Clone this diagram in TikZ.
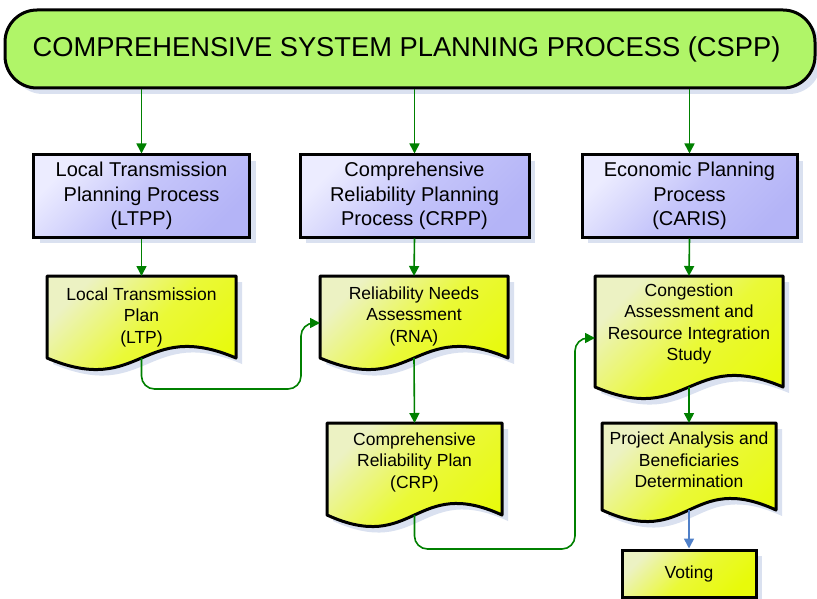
\documentclass[tikz,border=0pt]{standalone}
\usepackage{fontspec}
\setmainfont{Liberation Sans}
\usetikzlibrary{arrows.meta,calc,shadows}
\definecolor{arrowgreen}{RGB}{0,128,0}
\definecolor{arrowblue}{RGB}{80,128,200}
\definecolor{shadowc}{RGB}{218,225,240}
\definecolor{limefill}{RGB}{176,245,104}
\definecolor{purpleA}{RGB}{236,236,255}
\definecolor{purpleB}{RGB}{180,180,247}
\definecolor{purpleM}{RGB}{196,196,250}
\definecolor{yellowA}{RGB}{236,242,195}
\definecolor{yellowM}{RGB}{234,249,55}
\definecolor{yellowB}{RGB}{232,250,10}
\newcommand\docshape[5]{%
  \fill[shadowc,shift={(6,6)}] (#2,#3) -- (#4,#3) -- (#4,#5) .. controls ({(#2+#4)/2},{#5-40}) and ({(#2+#4)/2},{#5+40}) .. (#2,#5) -- cycle;
  \draw[docfill] (#2,#3) -- (#4,#3) -- (#4,#5) .. controls ({(#2+#4)/2},{#5-40}) and ({(#2+#4)/2},{#5+40}) .. (#2,#5) -- cycle;
  \coordinate (#1-t) at ({(#2+#4)/2},#3);
  \coordinate (#1-b) at ({(#2+#4)/2},#5);
}
\begin{document}
\begin{tikzpicture}[x=1pt,y=-1pt,
  flow/.style={draw=arrowgreen, line width=1.6pt, -{Triangle[length=10pt,width=10pt]}},
  bflow/.style={draw=arrowblue, line width=1.6pt, -{Triangle[length=10pt,width=10pt]}},
  shad/.style={drop shadow={shadow xshift=6pt, shadow yshift=-6pt, fill=shadowc, opacity=1}},
  procbox/.style={draw=black, line width=3pt, top color=purpleA, bottom color=purpleB, middle color=purpleM, shading angle=45,
    minimum width=216pt, minimum height=82pt, inner sep=0pt, align=center,
    font=\fontsize{20}{24.5}\selectfont, shad},
  docfill/.style={draw=black, line width=3pt, top color=yellowA, bottom color=yellowB, middle color=yellowM, shading angle=45, line join=round},
  doctext/.style={align=center, inner sep=0pt, font=\fontsize{17.5}{21.5}\selectfont},
  votebox/.style={draw=black, line width=3pt, top color=yellowA, bottom color=yellowB, middle color=yellowM, shading angle=45,
    minimum width=134pt, minimum height=47pt, inner sep=0pt, font=\fontsize{17.5}{21.5}\selectfont, shad},
  topbox/.style={draw=black, line width=3pt, fill=limefill, rounded corners=32pt,
    minimum width=810pt, minimum height=78pt, inner sep=0pt, font=\fontsize{27.3}{30}\selectfont, shad}
]
\useasboundingbox (0,0) rectangle (817,599);
\fill[white] (0,0) rectangle (817,599);

\node[topbox] (cspp) at (410,49) {\hspace*{-7pt}COMPREHENSIVE SYSTEM PLANNING PROCESS (CSPP)};

\node[procbox] (ltpp) at (141.5,196) {Local Transmission\\Planning Process\\(LTPP)};
\node[procbox, minimum width=229pt] (crpp) at (414.5,196) {Comprehensive\\Reliability Planning\\Process (CRPP)};
\node[procbox, minimum width=215pt] (caris) at (689.5,196) {Economic Planning\\Process\\(CARIS)};

\docshape{ltp}{47}{276}{236}{358}
\docshape{rna}{320}{276}{508}{358}
\docshape{crp}{327}{423}{502}{515}
\docshape{cris}{595}{276}{783}{387}
\docshape{pabd}{602}{423}{776}{510}

\coordinate (rna-w) at (320,323);
\coordinate (cris-w) at (595,338);

\node[doctext] (ltpT) at (141.5,317) {Local Transmission\\Plan\\(LTP)};
\node[doctext] (rnaT) at (414,316) {Reliability Needs\\Assessment\\(RNA)};
\node[doctext] (crpT) at (414.5,462) {Comprehensive\\Reliability Plan\\(CRP)};
\node[doctext] (crisT) at (689,324) {Congestion\\Assessment and\\Resource Integration\\Study};
\node[doctext] (pabdT) at (689,460) {Project Analysis and\\Beneficiaries\\Determination};

\node[votebox] (voting) at (689,573.5) {Voting};

\draw[flow] (cspp.south -| ltpp.north) -- (ltpp.north);
\draw[flow] (cspp.south -| crpp.north) -- (crpp.north);
\draw[flow] (cspp.south -| caris.north) -- (caris.north);

\draw[flow] (ltpp.south) -- (ltp-t);
\draw[flow] (crpp.south) -- (rna-t);
\draw[flow] (caris.south) -- (cris-t);
\draw[flow] (rna-b) -- (crp-t);
\draw[flow] (cris-b) -- (pabd-t);
\draw[bflow] (pabd-b) -- (voting.north);

\draw[flow, rounded corners=13pt] (ltp-b) -- (141.5,389) -- (301,389) -- (301,323) -- (rna-w);
\draw[flow, rounded corners=13pt] (crp-b) -- (414.5,549) -- (575,549) -- (575,338) -- (cris-w);
\end{tikzpicture}
\end{document}
